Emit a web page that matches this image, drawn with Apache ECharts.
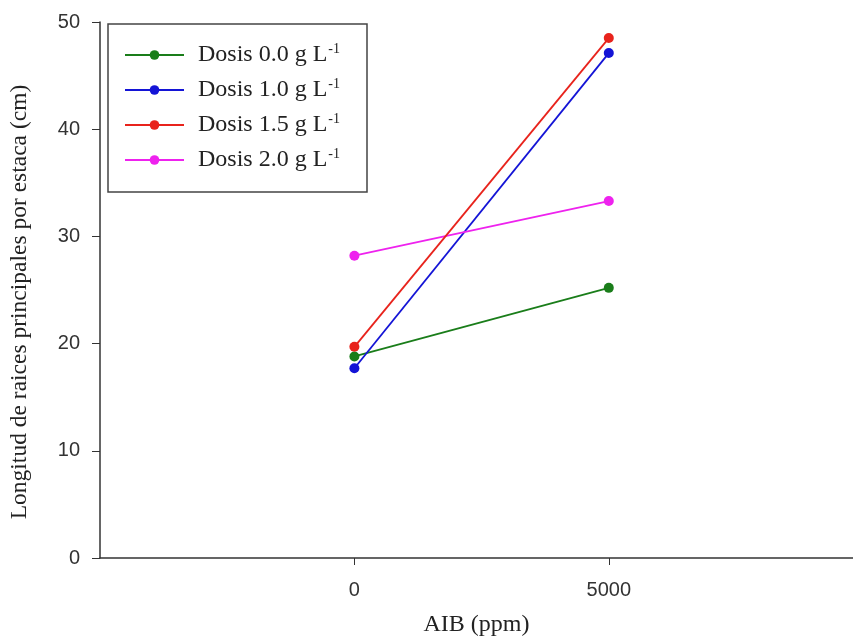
<!DOCTYPE html>
<html>
<head>
<meta charset="utf-8">
<script src="https://cdn.jsdelivr.net/npm/echarts@6/dist/echarts.min.js"></script>
<style>html,body{margin:0;padding:0;background:#fff}#c{width:853px;height:637px}</style>
</head>
<body>
<div id="c"></div>
<script>
const xValues = [0, 5000];
const seriesNames = ['Dosis 0.0 g L', 'Dosis 1.0 g L', 'Dosis 1.5 g L', 'Dosis 2.0 g L'];
const dosis00 = [18.8, 25.2];
const dosis10 = [17.7, 47.1];
const dosis15 = [19.7, 48.5];
const dosis20 = [28.2, 33.3];
const colors = ['#1a7d1a', '#1414d6', '#e8231c', '#ee22ee'];
const xTickValues = [0, 5000];
const yTickValues = [0, 10, 20, 30, 40, 50];

const allData = [dosis00, dosis10, dosis15, dosis20];
const chart = echarts.init(document.getElementById('c'));
const serif = 'Liberation Serif';
const sans = 'Liberation Sans';

chart.setOption({
  animation: false,
  backgroundColor: '#fff',
  grid: { left: 100, top: 22, right: 0, bottom: 79, containLabel: false, outerBoundsMode: 'none' },
  legend: {
    orient: 'vertical',
    left: 108,
    top: 24,
    padding: [18, 27, 19, 16],
    borderColor: '#444',
    borderWidth: 1.5,
    itemWidth: 59,
    itemHeight: 12,
    itemGap: 9,
    data: seriesNames,
    formatter: n => '{a|' + n + '}{s|-1}',
    textStyle: {
      color: '#222',
      rich: {
        a: { fontFamily: serif, fontSize: 24, lineHeight: 24, padding: [0, 0, 0, 9], color: '#222' },
        s: { fontFamily: serif, fontSize: 14, lineHeight: 24, padding: [0, 0, 12, 1], color: '#222' }
      }
    }
  },
  xAxis: {
    type: 'value',
    min: -5000,
    max: 9800,
    interval: 5000,
    name: 'AIB (ppm)',
    nameLocation: 'middle',
    nameGap: 55,
    nameTextStyle: { fontFamily: serif, fontSize: 24, color: '#222' },
    axisLine: { show: true, onZero: false, lineStyle: { color: '#333', width: 1.5 } },
    axisTick: { show: true, length: 7, lineStyle: { color: '#333' }, customValues: xTickValues },
    axisLabel: { fontFamily: sans, fontSize: 20, color: '#333', margin: 22, customValues: xTickValues, formatter: v => String(v) },
    splitLine: { show: false }
  },
  yAxis: {
    type: 'value',
    min: 0,
    max: 50,
    interval: 10,
    name: 'Longitud de raices principales por estaca (cm)',
    nameLocation: 'middle',
    nameGap: 68,
    nameTextStyle: { fontFamily: serif, fontSize: 23.5, color: '#222', padding: [0, 24, 0, 0] },
    axisLine: { show: true, onZero: false, lineStyle: { color: '#333', width: 1.5 } },
    axisTick: { show: true, length: 8, lineStyle: { color: '#333' }, customValues: yTickValues },
    axisLabel: { fontFamily: sans, fontSize: 20, color: '#333', margin: 20, customValues: yTickValues, formatter: v => String(v) },
    splitLine: { show: false }
  },
  series: seriesNames.map((name, i) => ({
    name: name,
    type: 'line',
    data: xValues.map((x, j) => [x, allData[i][j]]),
    symbol: 'circle',
    symbolSize: 10,
    color: colors[i],
    lineStyle: { color: colors[i], width: 1.8 },
    itemStyle: { color: colors[i] },
    z: i === 2 ? 3 : 2
  }))
});
</script>
</body>
</html>
